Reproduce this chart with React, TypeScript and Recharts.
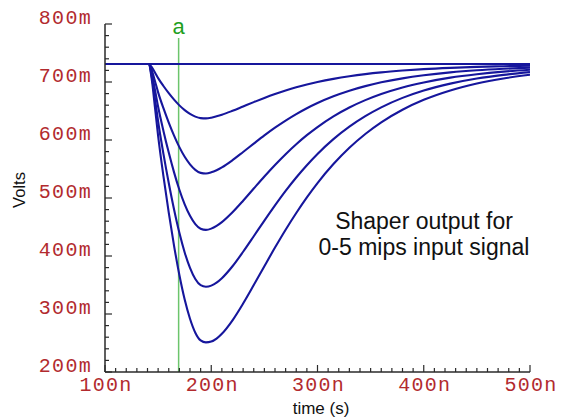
import React from 'react';
import { LineChart, Line, XAxis, YAxis, ReferenceLine, Customized } from 'recharts';

// time axis in ns
const timeNs = [100, 141, 144, 147, 150, 155, 160, 165, 170, 175, 180, 185, 190, 195, 200, 205, 210, 220, 230, 240, 250, 260, 270, 280, 290, 300, 315, 330, 345, 360, 380, 400, 425, 450, 475, 500];

// shaper output in mV, for 0..5 mips
const mip0 = [731, 731, 731, 731, 731, 731, 731, 731, 731, 731, 731, 731, 731, 731, 731, 731, 731, 731, 731, 731, 731, 731, 731, 731, 731, 731, 731, 731, 731, 731, 731, 731, 731, 731, 731, 731];
const mip1 = [731, 731, 725.8, 716.4, 706.7, 693.1, 680.8, 669.6, 659.7, 651.5, 645.0, 640.3, 637.7, 637.3, 638.5, 640.8, 643.5, 650.3, 657.8, 665.3, 672.5, 679.2, 685.3, 690.8, 695.6, 699.9, 705.4, 709.9, 713.6, 716.6, 719.7, 722.2, 724.4, 726.0, 727.2, 728.1];
const mip2 = [731, 731, 720.6, 701.7, 682.2, 654.8, 630.1, 607.6, 587.7, 571.1, 558.1, 548.6, 543.3, 542.2, 544.2, 547.9, 552.8, 565.2, 579.3, 593.7, 607.9, 621.2, 633.5, 644.7, 654.8, 663.8, 675.4, 685.0, 692.9, 699.4, 706.3, 711.6, 716.6, 720.2, 722.8, 724.8];
const mip3 = [731, 731, 715.3, 686.7, 657.2, 615.7, 578.3, 544.2, 514.2, 489.0, 469.3, 455.0, 447.0, 445.0, 447.2, 451.9, 458.4, 475.4, 495.3, 516.3, 537.1, 557.0, 575.6, 592.7, 608.3, 622.3, 640.7, 656.0, 668.7, 679.3, 690.6, 699.3, 707.6, 713.5, 717.9, 721.1];
const mip4 = [731, 731, 709.9, 671.5, 631.9, 576.2, 525.9, 480.2, 439.9, 406.1, 379.6, 360.4, 349.7, 347.0, 348.9, 354.0, 361.7, 382.3, 407.3, 434.0, 461.1, 487.3, 512.3, 535.4, 556.6, 576.0, 601.5, 623.0, 641.1, 656.3, 672.6, 685.3, 697.2, 706.0, 712.3, 717.0];
const mip5 = [731, 731, 704.6, 656.6, 607.2, 537.6, 474.7, 417.6, 367.2, 324.9, 291.8, 267.8, 254.4, 251.0, 252.4, 257.6, 265.9, 289.1, 318.1, 349.9, 382.4, 414.5, 445.3, 474.2, 501.1, 525.8, 558.5, 586.6, 610.4, 630.5, 652.2, 669.3, 685.5, 697.4, 706.1, 712.5];

const xMajorTicks = [100, 200, 300, 400, 500];
const yMajorTicks = [200, 300, 400, 500, 600, 700, 800];
const xMinorStep = 10;
const yMinorStep = 20;

const cursorTime = 169.3;
const cursorTop = 776;
const cursorName = 'a';

const annotationLines = ['Shaper output for', '0-5 mips input signal'];

const xTicks = Array.from({ length: (500 - 100) / xMinorStep + 1 }, (_, i) => 100 + i * xMinorStep);
const yTicks = Array.from({ length: (800 - 200) / yMinorStep + 1 }, (_, i) => 200 + i * yMinorStep);

const series = [mip0, mip1, mip2, mip3, mip4, mip5];
const data = timeNs.map((t, i) => {
  const row: Record<string, number> = { t };
  series.forEach((s, k) => {
    row[`m${k}`] = s[i];
  });
  return row;
});

const LABEL_RED = '#b22a2e';
const LINE_BLUE = '#16169c';
const AXIS = '#2a2a2a';
const MONO = '"Liberation Mono", "DejaVu Sans Mono", monospace';
const SANS = '"Liberation Sans", Arial, sans-serif';

const XTick = (props: any) => {
  const { x, y, payload } = props;
  const v = payload.value;
  const major = xMajorTicks.includes(v);
  return (
    <g>
      <line x1={x} x2={x} y1={y} y2={y - (major ? 7 : 4)} stroke={AXIS} strokeWidth={1.2} />
      {major && (
        <text x={x + 1} y={y + 19} textAnchor="middle" fill={LABEL_RED} fontFamily={MONO} fontSize={20} letterSpacing={1.3}>
          {`${v}n`}
        </text>
      )}
    </g>
  );
};

const YTick = (props: any) => {
  const { x, y, payload } = props;
  const v = payload.value;
  const major = yMajorTicks.includes(v);
  return (
    <g>
      <line x1={x} x2={x + (major ? 7 : 4)} y1={y} y2={y} stroke={AXIS} strokeWidth={1.2} />
      {major && (
        <text x={x - 13} y={y} textAnchor="end" fill={LABEL_RED} fontFamily={MONO} fontSize={20} letterSpacing={1.3}>
          {`${v}m`}
        </text>
      )}
    </g>
  );
};

const Annotations = () => (
  <g>
    <text x={19} y={190} transform="rotate(-90 19 190)" textAnchor="middle" dominantBaseline="central" fontFamily={SANS} fontSize={16.5} fill="#111">
      Volts
    </text>
    <text x={321} y={414} textAnchor="middle" fontFamily={SANS} fontSize={17} fill="#111">
      time (s)
    </text>
    {annotationLines.map((line, i) => (
      <text key={i} x={424} y={228.5 + i * 26.7} textAnchor="middle" fontFamily={SANS} fontSize={23} fill="#111">
        {line}
      </text>
    ))}
  </g>
);

export default function App() {
  return (
    <div style={{ position: 'absolute', left: 0, top: 0, width: 563, height: 420, background: '#fff' }}>
      <LineChart width={563} height={420} data={data} margin={{ top: 24, right: 33, bottom: 18, left: 45 }}>
        <XAxis
          dataKey="t"
          type="number"
          domain={[100, 500]}
          ticks={xTicks}
          interval={0}
          tick={<XTick />}
          tickLine={false}
          tickSize={0}
          tickMargin={0}
          height={30}
          axisLine={{ stroke: AXIS, strokeWidth: 1.5 }}
          allowDataOverflow
        />
        <YAxis
          type="number"
          domain={[200, 800]}
          ticks={yTicks}
          interval={0}
          tick={<YTick />}
          tickLine={false}
          tickSize={0}
          tickMargin={0}
          width={60}
          axisLine={{ stroke: AXIS, strokeWidth: 1.5 }}
          allowDataOverflow
        />
        <ReferenceLine
          segment={[{ x: cursorTime, y: cursorTop }, { x: cursorTime, y: 200 }]}
          stroke="#6cc56c"
          strokeWidth={1.5}
          label={{ value: cursorName, position: 'top', fill: '#1fa01f', fontSize: 22, fontFamily: SANS, offset: 4 }}
        />
        {series.map((_, k) => (
          <Line
            key={k}
            dataKey={`m${k}`}
            type="monotone"
            stroke={LINE_BLUE}
            strokeWidth={2.1}
            dot={false}
            activeDot={false}
            isAnimationActive={false}
          />
        ))}
        <Customized component={Annotations} />
      </LineChart>
    </div>
  );
}
